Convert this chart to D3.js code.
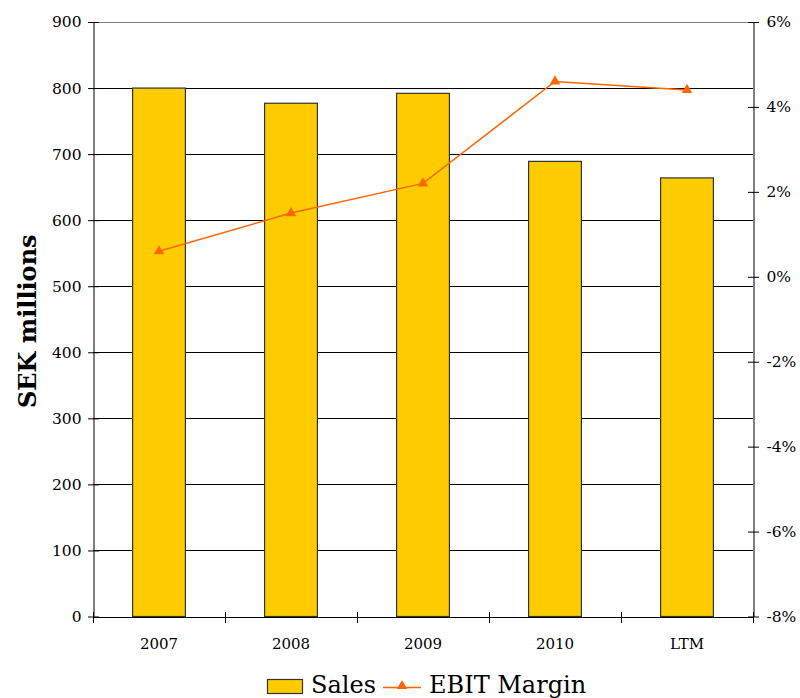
<!DOCTYPE html>
<html>
<head>
<meta charset="utf-8">
<script src="https://cdn.jsdelivr.net/npm/d3@7"></script>
<style>
  html, body { margin: 0; padding: 0; background: #fff; }
  svg { display: block; }
  text { font-family: "DejaVu Serif", serif; fill: #000; }
</style>
</head>
<body>
<svg id="chart" width="800" height="698"></svg>
<script>
// Sales (SEK millions) and EBIT margin (%) per period
const categories = ["2007", "2008", "2009", "2010", "LTM"];
const sales = [800, 777, 792, 689, 664];
const ebitMargin = [0.6, 1.5, 2.2, 4.6, 4.4];
const leftTicks = [0, 100, 200, 300, 400, 500, 600, 700, 800, 900];
const rightTicks = [-8, -6, -4, -2, 0, 2, 4, 6];

const svg = d3.select("#chart");
const m = { left: 93, right: 753, top: 22, bottom: 616.5 };

const x = d3.scaleBand().domain(categories).range([m.left, m.right]).paddingInner(0).paddingOuter(0);
const yL = d3.scaleLinear().domain([0, 900]).range([m.bottom, m.top]);
const yR = d3.scaleLinear().domain([-8, 6]).range([m.bottom, m.top]);

// plot frame top edge
svg.append("line")
  .attr("x1", m.left).attr("x2", m.right)
  .attr("y1", m.top + 0.5).attr("y2", m.top + 0.5)
  .attr("stroke", "#808080").attr("stroke-width", 1);

// horizontal gridlines at the left-axis ticks
svg.append("g").selectAll("line")
  .data(leftTicks.filter(d => d > 0 && d < 900))
  .join("line")
  .attr("x1", m.left).attr("x2", m.right)
  .attr("y1", d => Math.round(yL(d)) + 0.5).attr("y2", d => Math.round(yL(d)) + 0.5)
  .attr("stroke", "#000").attr("stroke-width", 1);

// bars
const bw = x.bandwidth() * 0.4;
svg.append("g").selectAll("rect")
  .data(categories.map((c, i) => ({ c, v: sales[i] })))
  .join("rect")
  .attr("x", d => x(d.c) + (x.bandwidth() - bw) / 2)
  .attr("y", d => yL(d.v))
  .attr("width", bw)
  .attr("height", d => yL(0) - yL(d.v))
  .attr("fill", "#FFCC00")
  .attr("stroke", "#333")
  .attr("stroke-width", 1.2);

// left axis
const leftAxis = d3.axisLeft(yL).tickValues(leftTicks).tickSize(0).tickPadding(12);
const gL = svg.append("g").attr("transform", `translate(${m.left + 0.5},0)`).call(leftAxis);
gL.attr("font-size", null).attr("font-family", null);
gL.select(".domain").attr("stroke", "#000");
gL.selectAll(".tick text").attr("font-size", 15.5);
gL.selectAll(".tick").append("line").attr("x1", -5.5).attr("x2", 5.5).attr("stroke", "#000");

// right axis
const rightAxis = d3.axisRight(yR).tickValues(rightTicks).tickSize(0).tickPadding(13)
  .tickFormat(d => (d < 0 ? "-" + Math.abs(d) : d) + "%");
const gR = svg.append("g").attr("transform", `translate(${m.right + 0.5},0)`).call(rightAxis);
gR.attr("font-size", null).attr("font-family", null);
gR.select(".domain").attr("stroke", "#000");
gR.selectAll(".tick text").attr("font-size", 15.5);
gR.selectAll(".tick").append("line").attr("x1", -5.5).attr("x2", 5.5).attr("stroke", "#000");

// bottom axis with ticks between categories
const bottomY = Math.round(m.bottom) + 0.5;
const gB = svg.append("g").attr("transform", `translate(0,${bottomY})`);
gB.append("line").attr("x1", m.left).attr("x2", m.right).attr("stroke", "#000");
const edges = categories.map(c => x(c)).concat([m.right]);
gB.selectAll("line.tk").data(edges).join("line").attr("class", "tk")
  .attr("x1", d => Math.round(d) + 0.5).attr("x2", d => Math.round(d) + 0.5)
  .attr("y1", -5.5).attr("y2", 5.5).attr("stroke", "#000");
gB.selectAll("text").data(categories).join("text")
  .attr("x", d => x(d) + x.bandwidth() / 2)
  .attr("y", 31)
  .attr("text-anchor", "middle")
  .attr("font-size", 15)
  .text(d => d);

// EBIT margin line with triangle markers
const pts = categories.map((c, i) => [x(c) + x.bandwidth() / 2, yR(ebitMargin[i])]);
svg.append("path")
  .attr("d", d3.line()(pts))
  .attr("fill", "none")
  .attr("stroke", "#FF6600")
  .attr("stroke-width", 1.5);
const tri = d3.symbol().type(d3.symbolTriangle).size(48);
svg.append("g").selectAll("path")
  .data(pts).join("path")
  .attr("transform", d => `translate(${d[0]},${d[1]})`)
  .attr("d", tri)
  .attr("fill", "#FF6600");

// y-axis title
svg.append("text")
  .attr("transform", `translate(36,${(m.top + m.bottom) / 2 + 2}) rotate(-90)`)
  .attr("text-anchor", "middle")
  .attr("font-size", 24)
  .attr("font-weight", "bold")
  .text("SEK millions");

// legend
const lg = svg.append("g");
lg.append("rect").attr("x", 267.5).attr("y", 679.5).attr("width", 35).attr("height", 14)
  .attr("fill", "#FFCC00").attr("stroke", "#333").attr("stroke-width", 1.2);
lg.append("text").attr("x", 311).attr("y", 693).attr("font-size", 24).text("Sales");
lg.append("line").attr("x1", 383).attr("x2", 421).attr("y1", 687.5).attr("y2", 687.5)
  .attr("stroke", "#FF6600").attr("stroke-width", 1.5);
lg.append("path").attr("transform", "translate(402,686)").attr("d", tri).attr("fill", "#FF6600");
lg.append("text").attr("x", 429).attr("y", 693).attr("font-size", 24).text("EBIT Margin");
</script>
</body>
</html>
